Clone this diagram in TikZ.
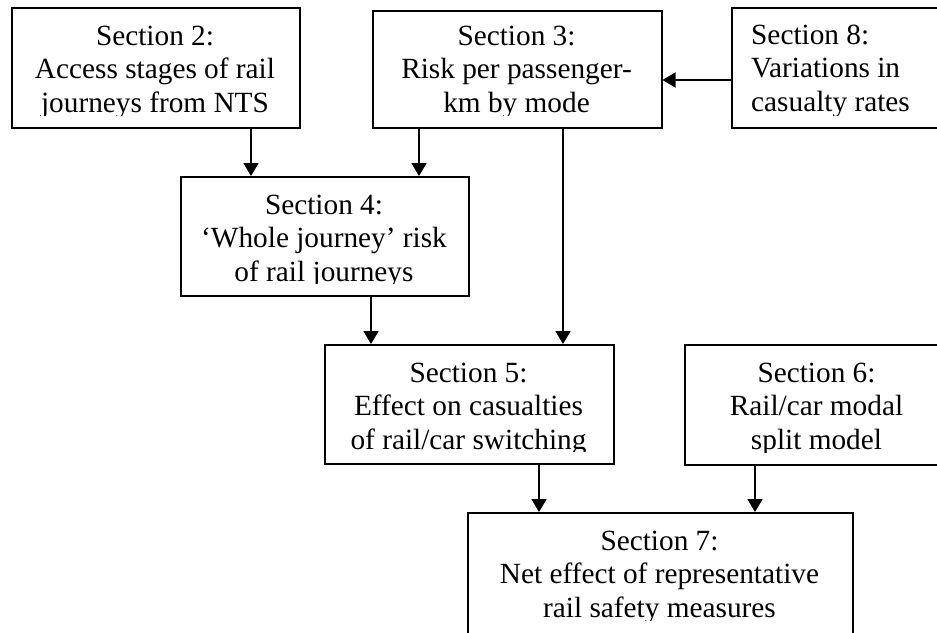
\documentclass[tikz,border=0pt]{standalone}
\usepackage{fontspec}
\setmainfont{Liberation Serif}
\usetikzlibrary{arrows.meta}
\begin{document}
\begin{tikzpicture}[x=1pt,y=-1pt,
  box/.style={draw, line width=1.5pt, inner sep=0pt, anchor=north west},
  txt/.style={anchor=base, align=center, inner sep=0pt, font=\fontsize{29.3}{33.5}\selectfont},
  txtl/.style={anchor=base west, align=left, inner sep=0pt, font=\fontsize{29.3}{33.5}\selectfont},
  arr/.style={line width=1.8pt, -{Triangle[width=15pt,length=13pt]}}]
\useasboundingbox (0,0) rectangle (937,632);
\clip (0,0) rectangle (937,632);
% boxes
\node[box, minimum width=288pt, minimum height=120pt] (s2) at (11,7) {};
\node[box, minimum width=289pt, minimum height=117pt] (s3) at (372,10) {};
\node[box, minimum width=230pt, minimum height=120pt] (s8) at (731,7) {};
\node[box, minimum width=288pt, minimum height=119pt] (s4) at (180,176) {};
\node[box, minimum width=289pt, minimum height=119pt] (s5) at (324,344) {};
\node[box, minimum width=265pt, minimum height=120pt] (s6) at (684,344) {};
\node[box, minimum width=385pt, minimum height=140pt] (s7) at (467,512) {};
% texts (anchored at the baseline of their last line, clipped at the bottom as in the reference)
\begin{scope}
\clip (11,7) rectangle (299,115);
\node[txt] (t2) at (155,112) {Section 2:\\Access stages of rail\\journeys from NTS};
\end{scope}
\begin{scope}
\clip (372,10) rectangle (661,115);
\node[txt] (t3) at (516.5,112) {Section 3:\\Risk per passenger-\\km by mode};
\end{scope}
\begin{scope}
\clip (731,7) rectangle (937,115);
\node[txtl] (t8) at (751,111) {Section 8:\\Variations in\\casualty rates};
\end{scope}
\begin{scope}
\clip (180,176) rectangle (468,283);
\node[txt] (t4) at (324,281) {Section 4:\\‘Whole journey’ risk\\of rail journeys};
\end{scope}
\begin{scope}
\clip (324,344) rectangle (613,451);
\node[txt] (t5) at (468.5,449) {Section 5:\\Effect on casualties\\of rail/car switching};
\end{scope}
\begin{scope}
\clip (684,344) rectangle (949,452);
\node[txt] (t6) at (816.5,449) {Section 6:\\Rail/car modal\\split model};
\end{scope}
\begin{scope}
\clip (467,512) rectangle (852,620);
\node[txt] (t7) at (659.5,617) {Section 7:\\Net effect of representative\\rail safety measures};
\end{scope}
% connector guides
\coordinate (c1) at (251,0);
\coordinate (c2) at (419,0);
\coordinate (c3) at (563,0);
\coordinate (c4) at (371,0);
\coordinate (c5) at (539,0);
\coordinate (c6) at (755,0);
\coordinate (c7) at (0,80);
% connectors
\draw[arr] (s2.south -| c1) -- (s4.north -| c1);
\draw[arr] (s3.south -| c2) -- (s4.north -| c2);
\draw[arr] (s3.south -| c3) -- (s5.north -| c3);
\draw[arr] (s4.south -| c4) -- (s5.north -| c4);
\draw[arr] (s5.south -| c5) -- (s7.north -| c5);
\draw[arr] (s6.south -| c6) -- (s7.north -| c6);
\draw[arr] (s8.west |- c7) -- (s3.east |- c7);
\end{tikzpicture}
\end{document}
